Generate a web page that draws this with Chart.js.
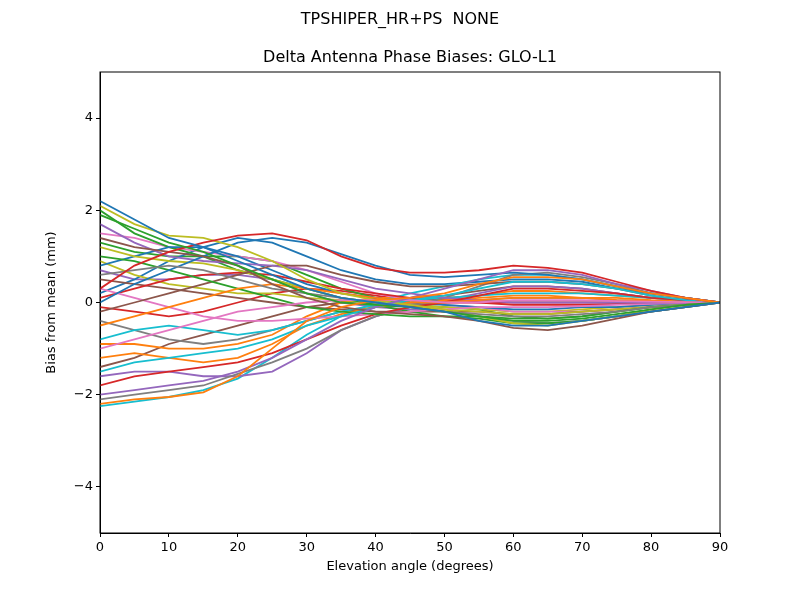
<!DOCTYPE html>
<html><head><meta charset="utf-8">
<script src="https://cdn.jsdelivr.net/npm/chart.js@4"></script>
<style>body{margin:0;background:#fff}#w{width:800px;height:600px}</style>
</head><body><div id="w"><canvas id="c" width="800" height="600"></canvas></div>
<script>
const elevation=[0,5,10,15,20,25,30,35,40,45,50,55,60,65,70,75,80,85,90];
const s01=[2.2,1.8,1.4,1.2,0.9,0.6,0.3,0.1,0.0,-0.1,-0.2,-0.4,-0.5,-0.5,-0.4,-0.3,-0.2,-0.1,0];
const s02=[-2.2,-2.1,-2.05,-1.95,-1.6,-1.0,-0.4,-0.1,0.05,0.1,0.2,0.4,0.55,0.55,0.5,0.35,0.2,0.1,0];
const s03=[1.9,1.6,1.3,1.1,0.8,0.5,0.2,0.0,-0.05,-0.1,-0.2,-0.3,-0.4,-0.4,-0.35,-0.25,-0.15,-0.05,0];
const s04=[0.3,0.8,1.1,1.3,1.45,1.5,1.35,1.0,0.75,0.65,0.65,0.7,0.8,0.75,0.65,0.45,0.25,0.1,0];
const s05=[-2.0,-1.9,-1.8,-1.7,-1.5,-1.2,-0.8,-0.4,-0.1,0.1,0.3,0.5,0.7,0.7,0.6,0.4,0.25,0.1,0];
const s06=[1.4,1.2,1.1,1.0,0.8,0.4,0.1,-0.1,-0.2,-0.25,-0.3,-0.4,-0.55,-0.6,-0.5,-0.35,-0.2,-0.1,0];
const s07=[-1.0,-0.8,-0.6,-0.4,-0.2,-0.1,0.0,0.05,0.05,0.05,0.0,0.0,0.05,0.05,0.05,0.03,0.02,0.01,0];
const s08=[0.6,0.7,0.8,0.7,0.5,0.3,0.2,0.1,0.0,-0.1,-0.2,-0.25,-0.3,-0.3,-0.25,-0.2,-0.1,-0.05,0];
const s09=[2.1,1.7,1.45,1.4,1.2,0.9,0.5,0.2,0.05,-0.05,-0.15,-0.3,-0.45,-0.5,-0.4,-0.3,-0.15,-0.05,0];
const s10=[-1.5,-1.3,-1.2,-1.1,-1.0,-0.8,-0.5,-0.3,-0.1,0.05,0.15,0.3,0.45,0.45,0.4,0.3,0.15,0.05,0];
const s11=[0.0,0.4,0.7,1.0,1.3,1.4,1.3,1.05,0.8,0.6,0.55,0.6,0.65,0.6,0.5,0.35,0.2,0.1,0];
const s12=[-0.5,-0.3,-0.1,0.1,0.3,0.4,0.3,0.2,0.1,0.0,0.0,0.05,0.1,0.1,0.1,0.05,0.03,0.01,0];
const s13=[1.0,0.9,0.7,0.5,0.3,0.1,-0.1,-0.2,-0.25,-0.3,-0.3,-0.3,-0.35,-0.35,-0.3,-0.2,-0.1,-0.05,0];
const s14=[-1.8,-1.6,-1.5,-1.4,-1.3,-1.1,-0.8,-0.5,-0.25,-0.1,0.0,0.15,0.3,0.3,0.25,0.2,0.1,0.05,0];
const s15=[1.7,1.3,1.0,0.9,0.85,0.8,0.7,0.5,0.3,0.2,0.1,0.05,0.0,0.0,0.0,0.0,0.0,0.0,0];
const s16=[-0.2,0.0,0.2,0.4,0.6,0.8,0.8,0.6,0.45,0.35,0.35,0.4,0.45,0.45,0.4,0.3,0.15,0.05,0];
const s17=[0.3,0.1,-0.1,-0.3,-0.4,-0.4,-0.35,-0.3,-0.25,-0.2,-0.15,-0.1,-0.1,-0.1,-0.08,-0.05,-0.03,-0.01,0];
const s18=[-2.1,-2.0,-1.9,-1.8,-1.55,-1.3,-1.0,-0.6,-0.3,-0.1,0.1,0.35,0.6,0.65,0.55,0.4,0.2,0.1,0];
const s19=[1.2,1.0,0.9,0.85,0.7,0.5,0.3,0.1,0.0,-0.1,-0.15,-0.2,-0.25,-0.25,-0.2,-0.15,-0.1,-0.05,0];
const s20=[-0.8,-0.6,-0.5,-0.6,-0.7,-0.6,-0.4,-0.2,-0.05,0.05,0.1,0.15,0.2,0.2,0.2,0.15,0.1,0.05,0];
const s21=[0.8,1.0,1.2,1.2,1.0,0.7,0.4,0.2,0.1,0.0,-0.05,-0.1,-0.15,-0.15,-0.1,-0.1,-0.05,0.0,0];
const s22=[-1.2,-1.1,-1.2,-1.3,-1.2,-0.9,-0.5,-0.25,-0.1,0.0,0.05,0.1,0.15,0.15,0.1,0.1,0.05,0.02,0];
const s23=[2.0,1.5,1.2,1.0,0.7,0.5,0.3,0.1,-0.05,-0.2,-0.3,-0.35,-0.45,-0.45,-0.4,-0.3,-0.2,-0.1,0];
const s24=[0.1,0.3,0.5,0.6,0.65,0.6,0.45,0.3,0.2,0.1,0.05,0.0,-0.05,-0.05,-0.05,-0.03,-0.02,-0.01,0];
const s25=[-1.6,-1.5,-1.5,-1.6,-1.6,-1.5,-1.1,-0.6,-0.3,-0.1,0.05,0.2,0.35,0.35,0.3,0.2,0.1,0.05,0];
const s26=[0.5,0.4,0.3,0.2,0.1,0.0,-0.1,-0.15,-0.2,-0.2,-0.2,-0.2,-0.25,-0.25,-0.2,-0.15,-0.1,-0.05,0];
const s27=[1.5,1.4,1.2,1.1,1.0,0.9,0.7,0.45,0.2,0.05,-0.05,-0.1,-0.2,-0.2,-0.2,-0.15,-0.1,-0.05,0];
const s28=[-0.4,-0.6,-0.8,-0.9,-0.8,-0.6,-0.4,-0.2,-0.1,-0.05,0.0,0.05,0.1,0.1,0.1,0.05,0.03,0.01,0];
const s29=[0.9,0.6,0.4,0.3,0.2,0.2,0.1,0.05,0.0,-0.05,-0.1,-0.15,-0.2,-0.2,-0.15,-0.1,-0.05,-0.02,0];
const s30=[-2.25,-2.15,-2.05,-1.9,-1.65,-1.2,-0.7,-0.3,0.0,0.2,0.35,0.5,0.6,0.6,0.5,0.35,0.2,0.1,0];
const s31=[0.2,0.5,0.9,1.2,1.4,1.3,1.0,0.7,0.5,0.4,0.4,0.45,0.5,0.5,0.45,0.3,0.2,0.1,0];
const s32=[-0.9,-0.9,-1.0,-1.0,-0.9,-0.7,-0.3,0.0,0.1,0.1,0.1,0.15,0.25,0.25,0.2,0.15,0.1,0.05,0];
const s33=[1.3,1.1,1.0,1.0,1.0,0.9,0.6,0.3,0.1,-0.05,-0.1,-0.15,-0.3,-0.35,-0.3,-0.2,-0.1,-0.05,0];
const s34=[-0.1,-0.2,-0.3,-0.2,0.0,0.2,0.3,0.25,0.15,0.05,0.0,0.0,0.0,0.0,0.0,0.0,0.0,0.0,0];
const s35=[0.7,0.5,0.5,0.6,0.6,0.5,0.2,0.0,-0.1,-0.15,-0.2,-0.3,-0.4,-0.45,-0.4,-0.3,-0.2,-0.1,0];
const s36=[-1.4,-1.2,-0.9,-0.7,-0.5,-0.3,-0.1,0.0,0.05,0.1,0.15,0.25,0.35,0.35,0.3,0.2,0.1,0.05,0];
const series=[s01,s02,s03,s04,s05,s06,s07,s08,s09,s10,s11,s12,s13,s14,s15,s16,s17,s18,s19,s20,s21,s22,s23,s24,s25,s26,s27,s28,s29,s30,s31,s32,s33,s34,s35,s36];
const colors=['#1f77b4','#ff7f0e','#2ca02c','#d62728','#9467bd','#8c564b','#e377c2','#7f7f7f','#bcbd22','#17becf'];
const yTicks=[-4,-2,0,2,4];
const F='"DejaVu Sans"';
const datasets=series.map((s,i)=>({data:s.map((v,j)=>({x:elevation[j],y:v})),borderColor:colors[i%10],borderWidth:1.8,pointRadius:0,fill:false,tension:0}));
const deco={id:'deco',afterDraw(c){const a=c.chartArea,x=c.ctx;x.save();x.strokeStyle='#000';x.lineWidth=1;x.strokeRect(a.left,a.top,a.right-a.left,a.bottom-a.top);
x.fillStyle='#000';x.textAlign='center';x.textBaseline='middle';x.font='16px '+F;x.fillText('TPSHIPER_HR+PS  NONE',400,20);
x.font='16px '+F;x.fillText('Delta Antenna Phase Biases: GLO-L1',(a.left+a.right)/2,58);x.restore();}};
new Chart(document.getElementById('c'),{type:'line',data:{datasets},plugins:[deco],
options:{responsive:false,animation:false,events:[],layout:{padding:{left:40,right:80,top:72,bottom:22}},
plugins:{legend:{display:false},tooltip:{enabled:false}},
scales:{x:{type:'linear',min:0,max:90,afterFit(s){s.height=45;},grid:{drawOnChartArea:false,color:'#000',tickLength:4},border:{color:'#000'},
ticks:{stepSize:10,color:'#000',font:{family:F,size:13},maxRotation:0},title:{display:true,text:'Elevation angle (degrees)',color:'#000',font:{family:F,size:13},padding:{top:2}}},
y:{min:-5,max:5,afterFit(s){s.width=60;},afterBuildTicks(s){s.ticks=yTicks.map(v=>({value:v}));},grid:{drawOnChartArea:false,color:'#000',tickLength:4},border:{color:'#000'},
ticks:{color:'#000',font:{family:F,size:13},callback:v=>v<0?'\u2212'+Math.abs(v):String(v)},title:{display:true,text:'Bias from mean (mm)',color:'#000',font:{family:F,size:13}}}}}});
</script></body></html>
